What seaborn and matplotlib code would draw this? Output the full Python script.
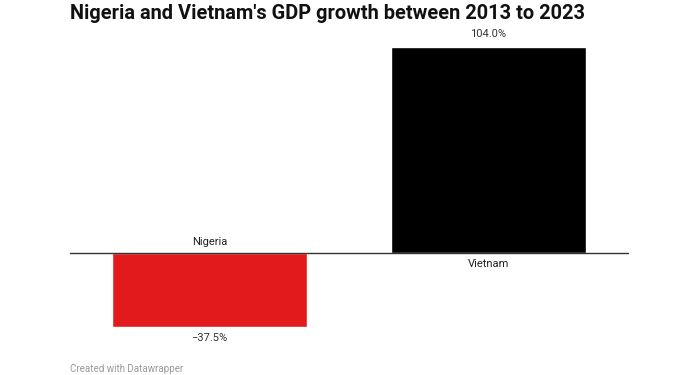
import matplotlib
matplotlib.use("Agg")
import matplotlib.pyplot as plt
import seaborn as sns
import pandas as pd

# data
countries = ['Nigeria', 'Vietnam']
growth = [-37.5, 104.0]
colors = ['#e31a1c', '#000000']

df = pd.DataFrame({'country': countries, 'growth': growth})

sns.set_style("white")
plt.rcParams['font.family'] = ['Roboto', 'DejaVu Sans']

fig = plt.figure(figsize=(7, 3.75), dpi=100)
ax = fig.add_axes([0.1, 0.128, 0.797, 0.7467])

sns.barplot(data=df, x='country', y='growth', hue='country', palette=colors,
            width=0.7, legend=False, ax=ax, saturation=1)

ax.set_xlim(-0.5, 1.5)
ax.set_ylim(min(growth), max(growth))
ax.axhline(0, color='#333333', lw=1, zorder=5, clip_on=False)

for i, (c, v) in enumerate(zip(countries, growth)):
    if v >= 0:
        ax.text(i, v + 4, '{:.1f}%'.format(v), ha='center', va='bottom',
                fontsize=8, color='#333333')
        ax.text(i, -3, c, ha='center', va='top', fontsize=8, color='#222222')
    else:
        ax.text(i, v - 3, '\u2212{:.1f}%'.format(abs(v)), ha='center', va='top',
                fontsize=8, color='#333333')
        ax.text(i, 3, c, ha='center', va='bottom', fontsize=8, color='#222222')

ax.set_axis_off()

fig.text(0.1, 0.99, "Nigeria and Vietnam's GDP growth between 2013 to 2023",
         ha='left', va='top', fontsize=14.4, fontweight='bold', color='#111111')
fig.text(0.1, 0.004, "Created with Datawrapper", ha='left', va='bottom',
         fontsize=7, color='#999999')

fig.savefig('out.png', dpi=100)
